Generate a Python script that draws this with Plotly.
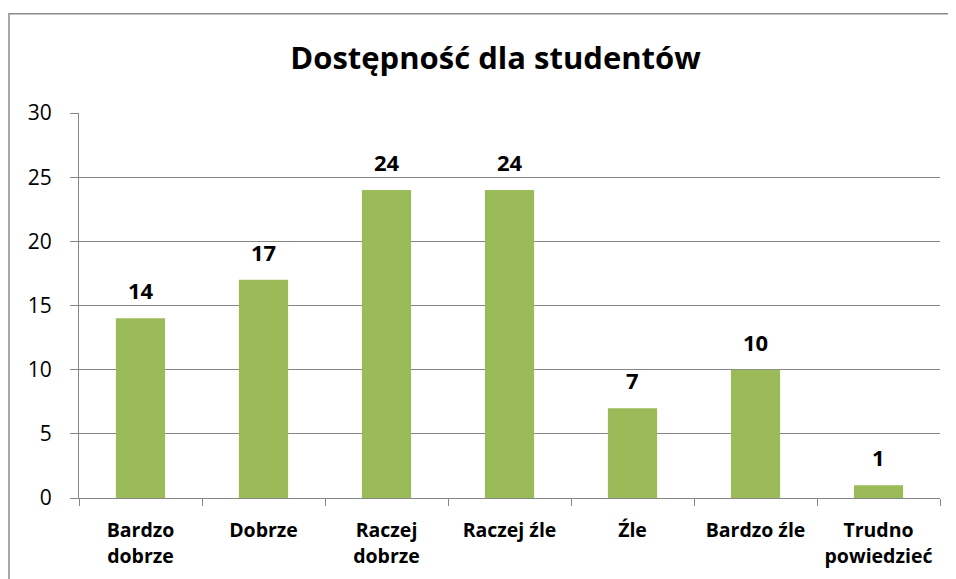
import plotly.graph_objects as go

categories = ["Bardzo<br>dobrze", "Dobrze", "Raczej<br>dobrze", "Raczej źle",
              "Źle", "Bardzo źle", "Trudno<br>powiedzieć"]
counts = [14, 17, 24, 24, 7, 10, 1]

FONT = "Open Sans, sans-serif"
GRID = "#868686"

fig = go.Figure(
    go.Bar(
        x=categories,
        y=counts,
        marker={"color": "#9BBB59", "line": {"width": 0}},
        width=0.4,
    )
)

# value labels, lifted a bit above the bars like the original
for cat, val in zip(categories, counts):
    fig.add_annotation(
        x=cat,
        y=val,
        text=f"<b>{val}</b>",
        showarrow=False,
        yanchor="middle",
        yshift=28,
        font={"size": 22, "color": "black", "family": FONT},
    )

# page body adds 8px offset, so margins are shifted accordingly
fig.update_layout(
    width=956,
    height=579,
    margin={"l": 71, "r": 24, "t": 105, "b": 89},
    paper_bgcolor="white",
    plot_bgcolor="white",
    font={"family": FONT, "color": "black"},
    title={
        "text": "<b>Dostępność dla studentów</b>",
        "x": 0.51,
        "xanchor": "center",
        "y": 1 - 50 / 579,
        "yanchor": "middle",
        "font": {"size": 31, "family": FONT, "color": "black"},
    },
    showlegend=False,
)

fig.update_xaxes(
    showline=True,
    linecolor=GRID,
    linewidth=1,
    ticks="outside",
    tickson="boundaries",
    ticklen=7,
    tickcolor=GRID,
    ticklabelstandoff=15,
    tickfont={"size": 19.5, "family": FONT, "weight": "bold"},
    showgrid=False,
)
fig.update_yaxes(
    range=[0, 30],
    dtick=5,
    showline=True,
    linecolor=GRID,
    linewidth=1,
    ticks="outside",
    ticklen=8,
    tickcolor=GRID,
    ticklabelstandoff=14,
    gridcolor=GRID,
    gridwidth=1,
    zeroline=False,
    tickfont={"size": 21, "family": FONT},
)

# outer chart frame
fig.add_shape(
    type="rect",
    xref="paper",
    yref="paper",
    x0=-0.0813,
    x1=1.03,
    y0=-0.23,
    y1=1.258,
    line={"color": "#8c8c8c", "width": 1.5},
    layer="below",
)

fig.write_html("out.html")
